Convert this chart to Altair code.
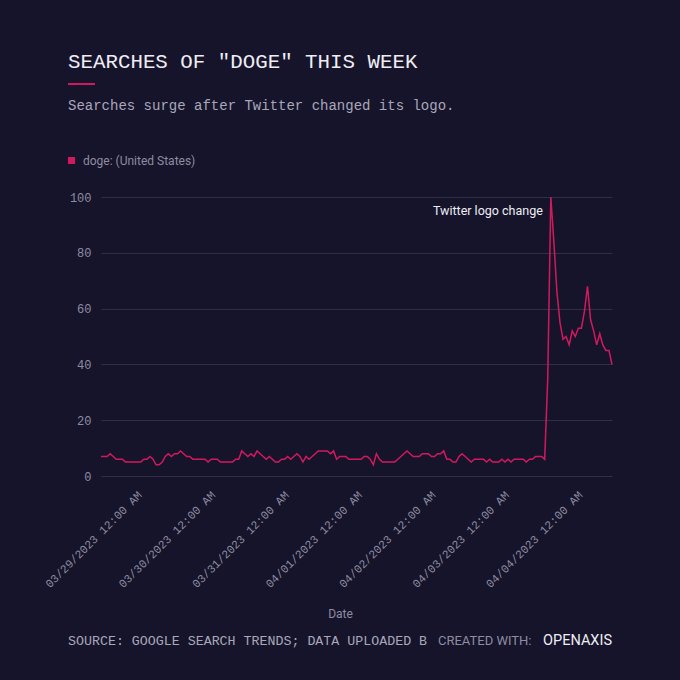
import altair as alt
import pandas as pd
import jinja2

# ---------------- data ----------------
START = "2023-03-28 11:00"
doge_values = [
    7, 7, 7, 8, 7, 6, 6, 6, 5, 5,
    5, 5, 5, 5, 6, 6, 7, 6, 4, 4,
    5, 7, 8, 7, 8, 8, 9, 8, 7, 7,
    6, 6, 6, 6, 6, 5, 6, 6, 6, 5,
    5, 5, 5, 5, 6, 6, 9, 8, 7, 8,
    7, 9, 8, 7, 6, 7, 6, 5, 5, 6,
    6, 7, 6, 7, 8, 7, 5, 7, 6, 7,
    8, 9, 9, 9, 9, 8, 9, 6, 7, 7,
    7, 6, 6, 6, 6, 6, 7, 7, 6, 4,
    8, 6, 5, 5, 5, 5, 5, 6, 7, 8,
    9, 8, 7, 7, 7, 8, 8, 8, 7, 7,
    8, 8, 9, 6, 6, 5, 5, 7, 8, 7,
    6, 5, 6, 6, 6, 6, 5, 6, 5, 5,
    5, 6, 5, 6, 5, 6, 6, 6, 6, 5,
    6, 6, 7, 7, 7, 6, 35, 100, 84, 66,
    55, 49, 50, 47, 52, 50, 53, 53, 59, 68,
    56, 52, 47, 51, 47, 45, 45, 40,
]
y_ticks = [0, 20, 40, 60, 80, 100]
series_name = "doge: (United States)"
annotation_label = "Twitter logo change"

TITLE = 'SEARCHES OF "DOGE" THIS WEEK'
SUBTITLE = "Searches surge after Twitter changed its logo."
SOURCE = "SOURCE: GOOGLE SEARCH TRENDS; DATA UPLOADED BY"
CREATED = "CREATED WITH:"
BRAND = "OPENAXIS"

# ---------------- style ----------------
BG = "#16142a"
PINK = "#d3195e"
GRID = "#312f48"
GRAY = "#8e8ca2"
LIGHT = "#a9a7ba"
WHITE = "#eeedf5"
MONO = "Liberation Mono"
SANS = "Roboto"

times = pd.date_range(START, periods=len(doge_values), freq="h")
df = pd.DataFrame({
    "Date": times.strftime("%Y-%m-%dT%H:%M:%S"),
    "value": doge_values,
    "series": series_name,
})
peak_idx = doge_values.index(max(doge_values))
annot_df = pd.DataFrame({
    "Date": [df["Date"][peak_idx]],
    "value": [doge_values[peak_idx]],
    "label": [annotation_label],
})

line = alt.Chart(df).mark_line(color=PINK, strokeWidth=1.5).encode(
    x=alt.X(
        "Date:T",
        title="Date",
        scale=alt.Scale(nice=False),
        axis=alt.Axis(
            format="%m/%d/%Y %I:%M %p",
            labelAngle=-45,
            tickCount={"interval": "day", "step": 1},
            grid=False,
            ticks=False,
            tickSize=0,
            domain=False,
            labelFont=MONO,
            labelFontSize=11.5,
            labelColor=GRAY,
            labelPadding=13,
            labelOffset=-5,
            labelOverlap=False,
            labelFlush=False,
            titleFont=SANS,
            titleFontSize=12,
            titleFontWeight="normal",
            titleColor=GRAY,
            titleX=239,
            titleY=137,
            titleBaseline="middle",
        ),
    ),
    y=alt.Y(
        "value:Q",
        title=None,
        scale=alt.Scale(domain=[0, 100], nice=False),
        axis=alt.Axis(
            values=y_ticks,
            grid=True,
            gridColor=GRID,
            gridWidth=1,
            ticks=False,
            tickSize=0,
            domain=False,
            labelFont=MONO,
            labelFontSize=12,
            labelColor=GRAY,
            labelPadding=10,
        ),
    ),
)

annot = alt.Chart(annot_df).mark_text(
    align="right", baseline="middle", dx=-8, dy=14,
    font=SANS, fontSize=12.5, color=WHITE,
).encode(x="Date:T", y="value:Q", text="label:N")


def txt(s, x, y, **kw):
    return alt.Chart(pd.DataFrame({"t": [s]})).mark_text(
        baseline="middle", **kw
    ).encode(x=alt.value(x), y=alt.value(y), text="t:N")


one = pd.DataFrame({"k": [0]})

title_t = txt(TITLE, -33, -135, align="left", font=MONO, fontSize=20.8, color=WHITE)
accent = alt.Chart(one).mark_rule(color=PINK, strokeWidth=2).encode(
    x=alt.value(-33), x2=alt.value(-6), y=alt.value(-113)
)
subtitle_t = txt(SUBTITLE, -33, -91.5, align="left", font=MONO, fontSize=14, color=LIGHT)
leg_sq = alt.Chart(one).mark_rect(color=PINK).encode(
    x=alt.value(-33), x2=alt.value(-26), y=alt.value(-40), y2=alt.value(-33)
)
leg_t = txt(series_name, -18, -36.5, align="left", font=SANS, fontSize=12, color=GRAY)
src_t = txt(SOURCE, -33, 444, align="left", font=MONO, fontSize=13.3, color=LIGHT,
            limit=362, ellipsis="\u200b")
created_t = txt(CREATED, 337, 444, align="left", font=SANS, fontSize=13, color=GRAY)
brand_t = txt(BRAND, 511, 444, align="right", font=SANS, fontSize=14.5, color=WHITE)

chart = alt.layer(
    line, annot, title_t, accent, subtitle_t, leg_sq, leg_t, src_t, created_t, brand_t
).properties(
    width=511,
    height=279,
    background=BG,
    padding={"left": 93, "top": 189, "right": 60, "bottom": 196},
    autosize=alt.AutoSizeParams(type="none"),
).configure_view(stroke=None)

TEMPLATE = jinja2.Template("""<!DOCTYPE html>
<html>
<head>
  <meta charset="utf-8">
  <style>
    html, body { background: """ + BG + """; }
    #{{ output_div }}.vega-embed { width: 100%; display: flex; }
  </style>
  <script type="text/javascript" src="{{ base_url }}/vega@{{ vega_version }}"></script>
  <script type="text/javascript" src="{{ base_url }}/vega-lite@{{ vegalite_version }}"></script>
  <script type="text/javascript" src="{{ base_url }}/vega-embed@{{ vegaembed_version }}"></script>
</head>
<body>
  <div id="{{ output_div }}"></div>
  <script>
    (function(vegaEmbed) {
      var spec = {{ spec }};
      var embedOpt = {{ embed_options }};
      vegaEmbed("#{{ output_div }}", spec, embedOpt).catch(console.error);
    })(vegaEmbed);
  </script>
</body>
</html>
""")

chart.save("out.html", embed_options={"renderer": "svg", "actions": False}, template=TEMPLATE)
